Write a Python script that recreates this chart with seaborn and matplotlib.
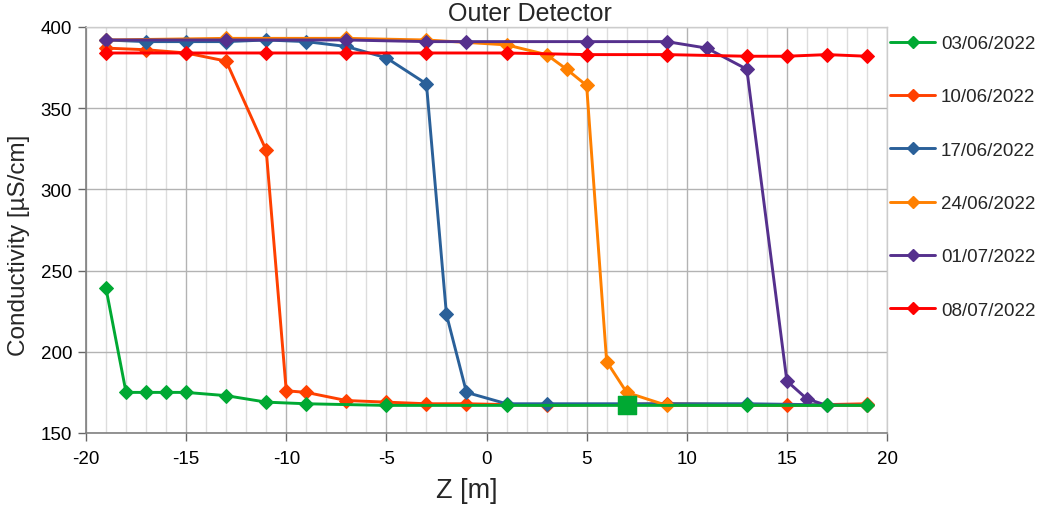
import numpy as np
import pandas as pd
import matplotlib
matplotlib.use("Agg")
import matplotlib.pyplot as plt
import seaborn as sns
from matplotlib.ticker import MultipleLocator
from matplotlib.lines import Line2D

# Conductivity profiles along Z, one list pair per measurement date
dates = ["03/06/2022", "10/06/2022", "17/06/2022", "24/06/2022", "01/07/2022", "08/07/2022"]
colors = ["#00a933", "#ff4000", "#2a6099", "#ff8000", "#55308d", "#ff0000"]

z_0306 = [-19, -18, -17, -16, -15, -13, -11, -9, -5, 1, 7, 13, 17, 19]
c_0306 = [239, 175, 175, 175, 175, 173, 169, 168, 167, 167, 167, 167, 167, 167]

z_1006 = [-19, -17, -15, -13, -11, -10, -9, -7, -5, -3, -1, 3, 9, 15, 19]
c_1006 = [387, 386, 384, 379, 324, 176, 175, 170, 169, 168, 168, 167, 168, 167, 168]

z_1706 = [-19, -17, -15, -13, -11, -9, -7, -5, -3, -2, -1, 1, 3, 13, 19]
c_1706 = [392, 391, 391, 391, 392, 391, 388, 381, 365, 223, 175, 168, 168, 168, 167]

z_2406 = [-19, -13, -7, -3, 1, 3, 4, 5, 6, 7, 9, 19]
c_2406 = [392, 393, 393, 392, 389, 383, 374, 364, 194, 175, 167, 167]

z_0107 = [-19, -13, -7, -3, -1, 5, 9, 11, 13, 15, 16, 17]
c_0107 = [392, 392, 392, 391, 391, 391, 391, 387, 374, 182, 171, 167]

z_0807 = [-19, -15, -11, -7, -3, 1, 5, 9, 13, 15, 17, 19]
c_0807 = [384, 384, 384, 384, 384, 384, 383, 383, 382, 382, 383, 382]

# Single highlighted reading of the first date
z_mark = [7]
c_mark = [167]

series_z = [z_0306, z_1006, z_1706, z_2406, z_0107, z_0807]
series_c = [c_0306, c_1006, c_1706, c_2406, c_0107, c_0807]

frames = []
for d, zs, cs in zip(dates, series_z, series_c):
    frames.append(pd.DataFrame({"Z": zs, "Conductivity": cs, "Date": d}))
df = pd.concat(frames, ignore_index=True)

sns.set_theme(style="white")
plt.rcParams["font.family"] = ["Liberation Sans", "DejaVu Sans"]
plt.rcParams["axes.unicode_minus"] = False

W, H = 1043, 510
fig = plt.figure(figsize=(W / 100, H / 100), dpi=100)
ax = fig.add_axes([86 / W, 1 - 434 / H, (887 - 86) / W, (434 - 28) / H])

# Grid first so data sits above it
ax.xaxis.set_major_locator(MultipleLocator(5))
ax.xaxis.set_minor_locator(MultipleLocator(1))
ax.yaxis.set_major_locator(MultipleLocator(50))
ax.grid(which="major", color="#b3b3b3", linewidth=1.0)
ax.grid(which="minor", axis="x", color="#dddddd", linewidth=1.0)
ax.set_axisbelow(True)

zorders = {d: z for d, z in zip(dates, [8, 3, 4, 5, 6, 7])}
for d, col in zip(dates, colors):
    sub = df[df["Date"] == d]
    sns.lineplot(data=sub, x="Z", y="Conductivity", sort=False, estimator=None,
                 ax=ax, color=col, linewidth=2.1, marker="D",
                 markersize=7.5, markeredgecolor=col, zorder=zorders[d], legend=False)

sns.scatterplot(x=z_mark, y=c_mark, marker="s", s=170, color=colors[0],
                edgecolor=colors[0], ax=ax, zorder=9, legend=False)

ax.set_xlim(-20, 20)
ax.set_ylim(150, 400)
ax.set_xticks(np.arange(-20, 21, 5))
ax.set_yticks(np.arange(150, 401, 50))
ax.tick_params(axis="both", which="major", labelsize=13.5, colors="#666666",
               length=6, width=1, direction="out", labelcolor="black")
ax.tick_params(axis="both", which="minor", length=0)
ax.tick_params(axis="x", bottom=True, pad=6)
ax.tick_params(axis="y", left=True, pad=4)

for side in ["left", "bottom"]:
    ax.spines[side].set_color("#808080")
    ax.spines[side].set_linewidth(1.2)
for side in ["top", "right"]:
    ax.spines[side].set_color("#cccccc")
    ax.spines[side].set_linewidth(1.0)

ax.set_xlabel("Z [m]", fontsize=19.5)
ax.xaxis.set_label_coords((467 - 86) / (887 - 86), -(478 - 434) / (434 - 28), transform=ax.transAxes)
ax.xaxis.label.set_va("top")
ax.set_ylabel("Conductivity [µS/cm]", fontsize=17.5)
ax.yaxis.set_label_coords(-(86 - 8) / (887 - 86), 1 - (245 - 28) / (434 - 28), transform=ax.transAxes)
ax.yaxis.label.set_va("top")

fig.text(530 / W, 1 - 2 / H, "Outer Detector", ha="center", va="top", fontsize=18)

handles = [Line2D([0], [0], color=c, linewidth=2.1, marker="D", markersize=6)
           for c in colors]
fig.legend(handles, dates, loc="upper left", bbox_to_anchor=(890 / W, 1 - 36 / H),
           frameon=False, fontsize=13.5, labelspacing=1.93, handlelength=2.4,
           handletextpad=0.32, borderaxespad=0, borderpad=0)

fig.savefig("out.png", dpi=100)
